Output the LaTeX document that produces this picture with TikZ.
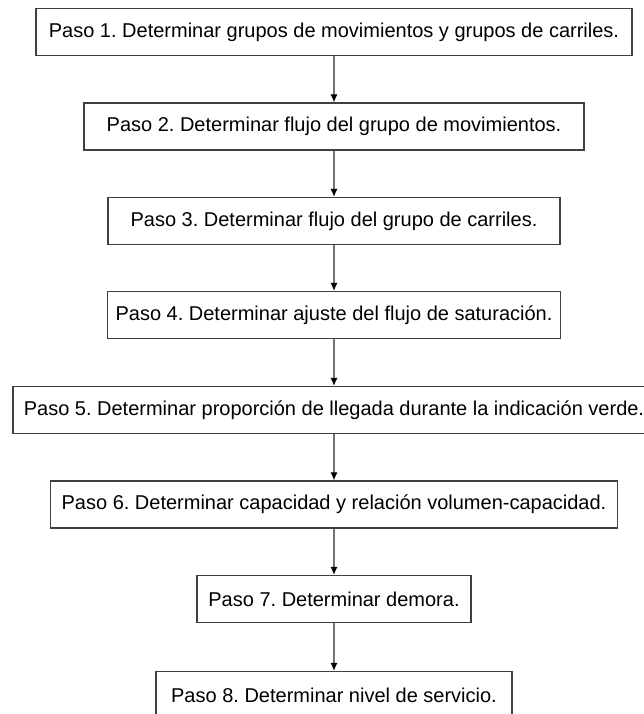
\documentclass[tikz,border=0pt]{standalone}
\usepackage{fontspec}
\setmainfont{Liberation Sans}
\usepackage{tikz}
\usetikzlibrary{arrows.meta}
\tikzset{>=latex}
\frenchspacing
\colorlet{bordecol}{black!75}
\colorlet{flechacol}{black!55}
\tikzstyle{paso}=[draw=bordecol,line width=1.3pt,minimum height=47pt,inner sep=0pt,font=\fontsize{20}{24}\selectfont]
\tikzstyle{flecha}=[-{Latex[length=8pt,width=7pt,color=black]},line width=1.1pt,flechacol]
\def\xc{334}

\begin{document}
\begin{tikzpicture}[x=1pt,y=-1pt]
  \useasboundingbox (0,0) rectangle (644,714);

  % PASOS
  \node[paso,minimum width=596pt] (p1) at (\xc,32)    {Paso 1. Determinar grupos de movimientos y grupos de carriles.};
  \node[paso,minimum width=500pt] (p2) at (\xc,126.5) {Paso 2. Determinar flujo del grupo de movimientos.};
  \node[paso,minimum width=452pt] (p3) at (\xc,221)   {Paso 3. Determinar flujo del grupo de carriles.};
  \node[paso,minimum width=453pt] (p4) at (\xc,315)   {Paso 4. Determinar ajuste del flujo de saturación.};
  \node[paso,minimum width=642pt] (p5) at (\xc,410)   {Paso 5. Determinar proporción de llegada durante la indicación verde.};
  \node[paso,minimum width=567pt] (p6) at (\xc,504.5) {Paso 6. Determinar capacidad y relación volumen-capacidad.};
  \node[paso,minimum width=274pt] (p7) at (\xc,599)   {Paso 7. Determinar demora.};
  \node[paso,minimum width=356pt] (p8) at (\xc,695)   {Paso 8. Determinar nivel de servicio.};

  % FLECHAS
  \foreach \i [evaluate=\i as \j using int(\i+1)] in {1,...,7}
    \draw[flecha] (p\i.south) -- (p\j.north);

\end{tikzpicture}
\end{document}
